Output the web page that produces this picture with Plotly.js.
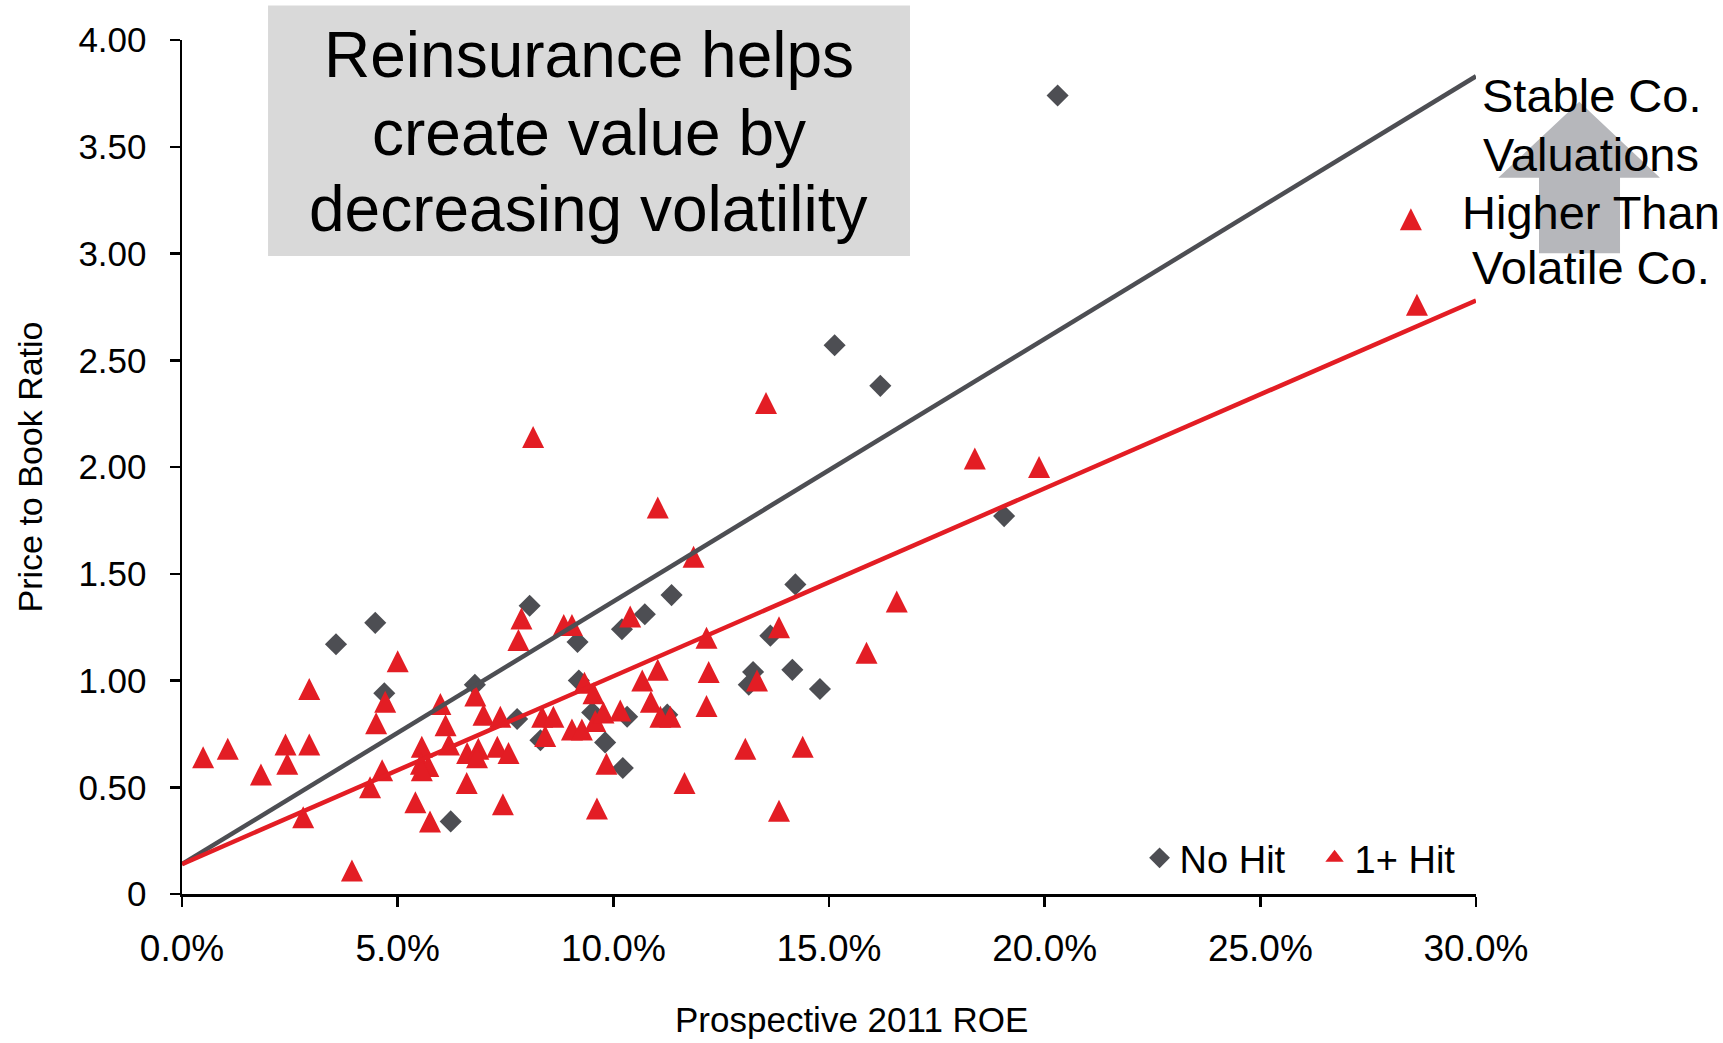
<!DOCTYPE html>
<html>
<head>
<meta charset="utf-8">
<script src="https://cdn.plot.ly/plotly-3.0.1.min.js"></script>
<style>
  html, body { margin: 0; padding: 0; background: #ffffff; }
  #chart { width: 1723px; height: 1043px; }
</style>
</head>
<body>
<div id="chart"></div>
<script>
// Companies with no catastrophe hit: prospective 2011 ROE (%) and price-to-book
const noHitROE = [20.30, 15.13, 16.19, 19.06, 14.22, 11.35, 8.06, 10.73, 10.20, 9.17,
                  4.48, 3.57, 4.69, 6.79, 13.64, 13.24, 13.14, 14.15, 14.79, 9.20,
                  9.51, 10.32, 7.77, 8.31, 9.81, 10.22, 6.23, 11.25];
const noHitPB  = [3.74, 2.57, 2.38, 1.77, 1.45, 1.40, 1.35, 1.31, 1.24, 1.18,
                  1.27, 1.17, 0.94, 0.98, 1.21, 1.04, 0.98, 1.05, 0.96, 1.00,
                  0.85, 0.83, 0.82, 0.72, 0.71, 0.59, 0.34, 0.84];

// Companies with one or more hits
const hitROE = [0.49, 1.06, 1.83, 2.40, 2.44, 2.95, 2.95, 2.81, 3.94, 5.00,
                4.50, 4.71, 4.64, 4.36, 5.41, 5.56, 5.54, 5.71, 5.56, 5.75,
                5.99, 6.11, 6.19, 6.60, 6.80, 6.99, 6.61, 6.87, 6.84, 7.31,
                7.57, 7.38, 7.44, 7.80, 7.87, 8.14, 8.35, 8.61, 8.42, 8.85,
                9.04, 9.04, 9.27, 9.33, 9.54, 9.58, 9.77, 10.16, 9.84, 9.62,
                10.39, 10.67, 10.87, 11.03, 11.09, 11.32, 11.03, 11.86, 12.16, 12.21,
                12.16, 11.65, 13.06, 13.33, 13.54, 13.84, 13.84, 14.39, 15.87, 16.57,
                18.38, 19.87, 28.49, 28.63];
const hitPB  = [0.64, 0.68, 0.56, 0.70, 0.61, 0.96, 0.70, 0.36, 0.11, 1.09,
                0.80, 0.90, 0.58, 0.50, 0.43, 0.69, 0.61, 0.60, 0.58, 0.34,
                0.89, 0.79, 0.70, 0.52, 0.93, 0.84, 0.66, 0.68, 0.64, 0.69,
                0.66, 0.83, 0.42, 1.19, 1.29, 2.14, 0.83, 0.83, 0.74, 1.26,
                1.26, 0.77, 0.77, 0.99, 0.94, 0.81, 0.85, 0.86, 0.61, 0.40,
                1.30, 1.00, 0.90, 1.05, 0.83, 0.83, 1.81, 1.58, 1.20, 1.04,
                0.88, 0.52, 0.68, 1.00, 2.30, 1.25, 0.39, 0.69, 1.13, 1.37,
                2.04, 2.00, 3.16, 2.76];

// Linear trend lines, end points at 0% and 30% ROE
const trendROE      = [0, 30];
const noHitTrendPB  = [0.14, 3.83];
const hitTrendPB    = [0.14, 2.78];

// Axis ticks
const xTickVals = [0, 5, 10, 15, 20, 25, 30];
const xTickText = ['0.0%', '5.0%', '10.0%', '15.0%', '20.0%', '25.0%', '30.0%'];
const yTickVals = [0, 0.5, 1, 1.5, 2, 2.5, 3, 3.5, 4];
const yTickText = ['0', '0.50', '1.00', '1.50', '2.00', '2.50', '3.00', '3.50', '4.00'];

const seriesNames = ['No Hit', '1+ Hit'];
const xTitle = 'Prospective 2011 ROE';
const yTitle = 'Price to Book Ratio';
const calloutLines = ['Reinsurance helps', 'create value by', 'decreasing volatility'];
const sideNoteLines = ['Stable Co.', 'Valuations', 'Higher Than', 'Volatile Co.'];

const GREY = '#4d4e53';
const RED = '#e31d24';
const FONT = 'Liberation Sans, Arial, Helvetica, sans-serif';

// Upward triangle: the arrow-down glyph turned half a turn, pushed back by its
// own half-height so the triangle sits centred on the data point.
const TRI_SIZE = 22;

const traces = [
  {
    type: 'scatter', mode: 'markers', name: seriesNames[0], legendrank: 1,
    x: noHitROE, y: noHitPB,
    marker: { symbol: 'diamond', size: 17, color: GREY }
  },
  {
    type: 'scatter', mode: 'markers', name: seriesNames[1], showlegend: false,
    x: hitROE, y: hitPB,
    marker: { symbol: 'arrow-down', angle: 180, size: TRI_SIZE, standoff: TRI_SIZE / 2, color: RED }
  },
  { // legend key for the 1+ Hit series (no points of its own)
    type: 'scatter', mode: 'markers', name: seriesNames[1], legendrank: 2,
    x: [null], y: [null], hoverinfo: 'skip',
    marker: { symbol: 'triangle-up', size: 18, color: RED }
  },
  {
    type: 'scatter', mode: 'lines', showlegend: false, hoverinfo: 'skip',
    x: trendROE, y: noHitTrendPB,
    line: { color: GREY, width: 4.5 }
  },
  {
    type: 'scatter', mode: 'lines', showlegend: false, hoverinfo: 'skip',
    x: trendROE, y: hitTrendPB,
    line: { color: RED, width: 4.5 }
  }
];

const calloutY = [0.982, 0.891, 0.802];
const sideNoteY = [0.935, 0.8665, 0.798, 0.734];

const annotations = [];
calloutLines.forEach((t, i) => annotations.push({
  xref: 'paper', yref: 'paper', x: 0.3145, y: calloutY[i],
  xanchor: 'center', yanchor: 'middle', showarrow: false,
  text: t, font: { family: FONT, size: 64, color: '#000000' }
}));
sideNoteLines.forEach((t, i) => annotations.push({
  xref: 'paper', yref: 'paper', x: 1.0889, y: sideNoteY[i],
  xanchor: 'center', yanchor: 'middle', showarrow: false,
  text: t, font: { family: FONT, size: 47, color: '#000000' }
}));
// x-axis title, set slightly right of the axis centre
annotations.push({
  xref: 'paper', yref: 'paper', x: 0.5175, y: -0.1465,
  xanchor: 'center', yanchor: 'middle', showarrow: false,
  text: xTitle, font: { family: FONT, size: 35, color: '#000000' }
});

const shapes = [
  { // grey callout panel
    type: 'rect', xref: 'paper', yref: 'paper',
    x0: 0.0665, x1: 0.5626, y0: 0.7471, y1: 1.0404,
    fillcolor: '#d9d9d9', line: { width: 0 }, layer: 'below'
  },
  { // block arrow pointing up behind the side note
    type: 'path', xref: 'paper', yref: 'paper',
    path: 'M1.0487,0.7502 L1.0487,0.8388 L1.0172,0.8388 L1.0798,0.9277 L1.1422,0.8388 L1.1113,0.8388 L1.1113,0.7502 Z',
    fillcolor: '#b6b7bb', line: { width: 0 }, layer: 'below'
  }
];

const axisCommon = {
  showgrid: false, zeroline: false,
  showline: true, linecolor: '#000000', linewidth: 2.5,
  ticks: 'outside', ticklen: 10, tickwidth: 2.5, tickcolor: '#000000',
  fixedrange: true
};

const layout = {
  width: 1723, height: 1043,
  margin: { l: 182, r: 247, t: 40, b: 149 },
  paper_bgcolor: '#ffffff', plot_bgcolor: '#ffffff',
  font: { family: FONT, color: '#000000' },
  showlegend: true,
  legend: {
    orientation: 'h', x: 0.740, y: 0.042, xanchor: 'left', yanchor: 'middle',
    entrywidth: 130, traceorder: 'normal',
    bgcolor: 'rgba(0,0,0,0)', font: { family: FONT, size: 38, color: '#000000' },
    itemclick: false, itemdoubleclick: false
  },
  xaxis: Object.assign({}, axisCommon, {
    range: [0, 30], tickmode: 'array', tickvals: xTickVals, ticktext: xTickText,
    tickfont: { family: FONT, size: 37, color: '#000000' },
    ticklabelstandoff: 10
  }),
  yaxis: Object.assign({}, axisCommon, {
    range: [0, 4], tickmode: 'array', tickvals: yTickVals, ticktext: yTickText,
    tickfont: { family: FONT, size: 35, color: '#000000' },
    ticklabelstandoff: 16,
    title: { text: yTitle, font: { family: FONT, size: 34, color: '#000000' }, standoff: 26 }
  }),
  annotations: annotations,
  shapes: shapes
};

Plotly.newPlot('chart', traces, layout, { displayModeBar: false, staticPlot: true });
</script>
</body>
</html>
